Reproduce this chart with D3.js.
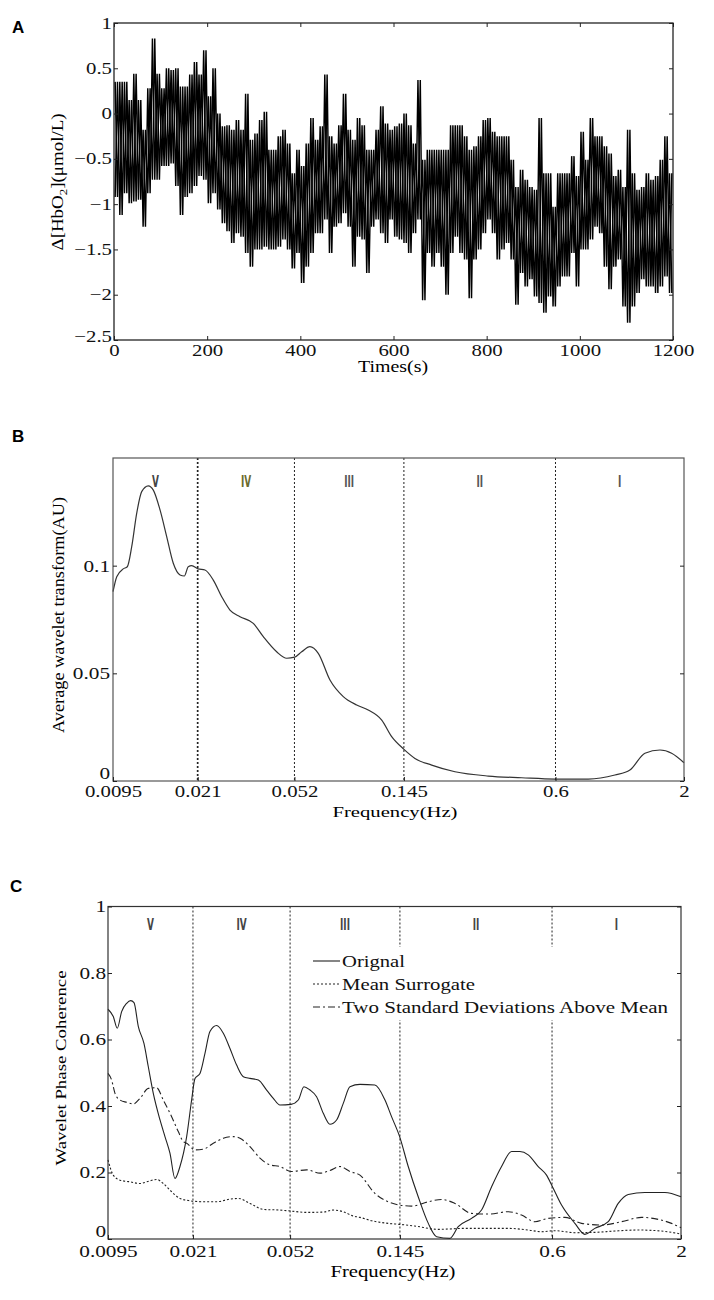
<!DOCTYPE html>
<html><head><meta charset="utf-8">
<script src="https://cdn.jsdelivr.net/npm/d3@7/dist/d3.min.js"></script>
<style>body{margin:0;background:#fff}</style>
</head><body>
<svg id="fig" width="714" height="1300" xmlns="http://www.w3.org/2000/svg"></svg>
<script>
// ---------- Panel A : ΔHbO2 time series (10 s bins: upper / lower excursion) ----------
const aBinSeconds = 10;
const aHigh = [
  0.35,0.35,0.35,0.15,0.44,0.15,-0.18,0.28,0.83,0.44,0.28,0.5,0.48,0.5,0.3,0.3,0.43,0.57,0.43,0.7,0.19,0.5,0.0,-0.14,-0.13,-0.18,-0.07,-0.18,0.22,-0.29,
  -0.22,-0.07,0.02,-0.4,-0.4,-0.25,-0.18,-0.33,-0.66,-0.4,-0.58,-0.33,-0.05,-0.29,-0.14,0.43,-0.25,-0.33,-0.13,0.22,-0.18,-0.29,-0.05,-0.13,-0.4,-0.4,-0.18,0.08,-0.11,-0.18,
  -0.14,-0.11,0.0,-0.13,-0.33,0.37,-0.51,-0.4,-0.4,-0.4,-0.4,-0.4,-0.13,-0.13,-0.13,-0.25,-0.4,-0.36,-0.25,-0.07,-0.05,-0.2,-0.25,-0.25,-0.25,-0.51,-0.81,-0.62,-0.73,-0.81,
  -0.84,-0.05,-0.66,-0.66,-1.03,-0.66,-0.66,-0.66,-0.47,-0.69,-0.2,-0.51,-0.05,-0.25,-0.25,-0.36,-0.44,-0.69,-0.62,-0.81,-0.18,-0.66,-0.84,-0.81,-0.66,-0.73,-0.69,-0.51,-0.25,-0.66];
const aLow = [
  -0.92,-1.12,-0.88,-0.99,-0.97,-0.95,-1.25,-0.88,-0.73,-0.73,-0.58,-0.58,-0.55,-0.8,-1.12,-0.92,-0.88,-0.8,-0.69,-0.73,-0.99,-0.88,-1.06,-1.21,-1.3,-1.43,-1.32,-1.36,-1.54,-1.69,
  -1.5,-1.5,-1.47,-1.5,-1.5,-1.47,-1.39,-1.5,-1.71,-1.54,-1.87,-1.69,-1.54,-1.32,-1.32,-1.17,-1.54,-1.25,-1.21,-1.1,-1.25,-1.69,-1.36,-1.39,-1.76,-1.25,-1.17,-1.32,-1.43,-1.17,
  -1.36,-1.39,-1.43,-1.54,-1.32,-1.17,-2.06,-1.54,-1.69,-1.54,-1.69,-2.0,-1.54,-1.36,-1.54,-1.61,-2.04,-1.61,-1.5,-1.32,-1.17,-1.32,-1.61,-1.5,-1.43,-1.61,-2.11,-1.76,-1.91,-1.83,
  -2.02,-2.09,-2.2,-2.02,-2.13,-1.91,-1.8,-1.8,-1.54,-1.91,-1.5,-1.5,-1.39,-1.25,-1.32,-1.69,-1.94,-1.69,-1.61,-2.13,-2.31,-2.13,-1.98,-1.83,-1.91,-1.91,-1.98,-1.91,-1.8,-1.98];
const aXTicks = [0,200,400,600,800,1000,1200];
const aYTicks = [-2.5,-2,-1.5,-1,-0.5,0,0.5,1];

// ---------- Frequency bands ----------
const freqTicks = [0.0095,0.021,0.052,0.145,0.6,2];
const freqTickLabels = ["0.0095","0.021","0.052","0.145","0.6","2"];
const bandEdges = [0.0095,0.021,0.052,0.145,0.6,2];
const bandNames = ["V","IV","III","II","I"];

// ---------- Panel B : average wavelet transform ----------
const bFreq = [0.0095,0.00984,0.01046,0.01086,0.01132,0.01186,0.01243,0.01322,0.01386,0.01476,0.01571,0.01671,0.0178,0.01853,0.01923,0.01986,0.02106,0.02249,0.02431,0.0263,0.02842,0.03122,0.03536,0.03884,0.04402,0.04836,0.05211,0.05564,0.06014,0.06501,0.07253,0.08216,0.09316,0.1038,0.1178,0.1293,0.1451,0.1608,0.1881,0.234,0.3196,0.437,0.597,0.8154,1.047,1.205,1.387,1.597,1.781,2.0];
const bValue = [0.0879,0.0949,0.0985,0.0995,0.1088,0.1243,0.1344,0.1371,0.1351,0.1259,0.1135,0.1011,0.0957,0.0952,0.0995,0.1000,0.0985,0.098,0.0933,0.0856,0.0794,0.0763,0.0732,0.0670,0.0600,0.0570,0.0575,0.0600,0.0624,0.0593,0.0469,0.0392,0.0353,0.033,0.0283,0.0206,0.0147,0.0105,0.0074,0.0043,0.0023,0.0015,0.0009,0.0009,0.0028,0.0051,0.0129,0.0144,0.0129,0.0085];
const bYTicks = [0,0.05,0.1];

// ---------- Panel C : wavelet phase coherence ----------
const cOrigFreq = [0.0095,0.00998,0.01036,0.01079,0.01131,0.01174,0.01211,0.01261,0.01329,0.01384,0.0145,0.01544,0.01617,0.01694,0.01775,0.0186,0.0198,0.02074,0.0214,0.02242,0.02349,0.02461,0.02619,0.02788,0.02967,0.03157,0.03361,0.03576,0.03865,0.04178,0.04446,0.04731,0.05244,0.05613,0.05918,0.06258,0.06659,0.0709,0.07544,0.08028,0.08544,0.09093,0.09983,0.1148,0.1261,0.1341,0.1446,0.1567,0.1720,0.1890,0.2042,0.2312,0.2499,0.2830,0.3107,0.3412,0.3745,0.4113,0.4443,0.4803,0.5274,0.5699,0.6009,0.6557,0.7425,0.8153,0.8948,1.014,1.113,1.222,1.427,1.720,2.0];
const cOrigVal = [0.691,0.669,0.634,0.684,0.709,0.717,0.711,0.639,0.588,0.518,0.438,0.358,0.308,0.258,0.182,0.218,0.308,0.418,0.483,0.498,0.558,0.624,0.642,0.619,0.573,0.523,0.488,0.483,0.478,0.448,0.423,0.403,0.405,0.418,0.458,0.448,0.428,0.378,0.345,0.358,0.408,0.458,0.465,0.463,0.418,0.368,0.308,0.218,0.127,0.047,0.007,0.002,0.037,0.062,0.087,0.157,0.218,0.263,0.263,0.253,0.218,0.192,0.159,0.102,0.047,0.014,0.032,0.052,0.107,0.134,0.140,0.140,0.127];
const cMeanFreq = [0.0095,0.00998,0.01063,0.01167,0.01281,0.01406,0.01496,0.01592,0.01694,0.0186,0.02042,0.02313,0.02619,0.02967,0.03207,0.03576,0.0405,0.04731,0.05244,0.06068,0.0709,0.07783,0.08544,0.09381,0.09983,0.1113,0.13,0.1446,0.1667,0.2074,0.2659,0.3308,0.3986,0.4803,0.5441,0.616,0.7425,0.8948,1.078,1.341,1.667,2.0];
const cMeanVal = [0.238,0.192,0.177,0.172,0.167,0.175,0.179,0.167,0.147,0.122,0.115,0.112,0.112,0.12,0.122,0.107,0.089,0.087,0.084,0.08,0.081,0.087,0.082,0.069,0.065,0.055,0.047,0.044,0.039,0.029,0.032,0.032,0.032,0.027,0.022,0.025,0.019,0.02,0.024,0.027,0.024,0.015];
const cSdFreq = [0.0095,0.00983,0.01014,0.01063,0.01131,0.01203,0.01281,0.01384,0.01496,0.01592,0.01721,0.01831,0.01919,0.0198,0.0214,0.02313,0.02539,0.02788,0.0306,0.03257,0.03576,0.03925,0.0431,0.04731,0.05244,0.06068,0.06871,0.07544,0.08283,0.09093,0.09983,0.1148,0.13,0.1446,0.1617,0.189,0.2138,0.2423,0.283,0.3308,0.3986,0.4513,0.5112,0.579,0.6762,0.7902,0.9527,1.148,1.383,1.616,1.831,2.0];
const cSdVal = [0.498,0.478,0.438,0.418,0.411,0.406,0.423,0.453,0.455,0.418,0.368,0.323,0.293,0.288,0.268,0.27,0.288,0.303,0.308,0.303,0.278,0.243,0.223,0.218,0.203,0.208,0.198,0.206,0.218,0.203,0.192,0.137,0.112,0.102,0.099,0.112,0.119,0.107,0.077,0.075,0.082,0.072,0.052,0.062,0.065,0.047,0.042,0.052,0.065,0.059,0.047,0.034];
const cYTicks = [0,0.2,0.4,0.6,0.8,1];
const cLegend = ["Orignal","Mean Surrogate","Two Standard Deviations Above Mean"];

// ================= drawing =================
const svg = d3.select("#fig");
const SERIF = "'Liberation Serif','Times New Roman',serif";

function stretch(sel, k){
  sel.each(function(){
    const L = this.getComputedTextLength();
    d3.select(this).attr("textLength", L*k).attr("lengthAdjust","spacingAndGlyphs");
  });
}
function fitText(sel, w){ sel.attr("textLength", w).attr("lengthAdjust","spacingAndGlyphs"); }

function panelLetter(txt, x, y){
  svg.append("text").attr("x",x).attr("y",y).text(txt)
    .attr("font-family","'Liberation Sans',Arial,sans-serif").attr("font-weight","bold").attr("font-size",17);
}

function frame(x, y, boxColor){
  const [x0,x1] = x.range(), [y0,y1] = y.range();
  svg.append("rect").attr("x",x0).attr("y",y1).attr("width",x1-x0).attr("height",y0-y1)
    .attr("fill","none").attr("stroke",boxColor).attr("stroke-width",1.2);
}

function styleAxis(g, fs, k){
  g.select(".domain").remove();
  g.selectAll(".tick line").attr("stroke","#222");
  g.selectAll("text").attr("font-family",SERIF).attr("font-size",fs).attr("fill","#111");
  stretch(g.selectAll("text"), k);
}

// ---------- A ----------
panelLetter("A", 12, 33);
const xA = d3.scaleLinear().domain([0,1200]).range([114,673]);
const yA = d3.scaleLinear().domain([-2.5,1]).range([340,23]);
// two interleaved traces through each bin's upper and lower excursion
const traceUp = [], traceDown = [];
aHigh.forEach((h,i)=>{
  const t0 = i*aBinSeconds;
  traceUp.push([t0 + aBinSeconds*0.25, h], [t0 + aBinSeconds*0.75, aLow[i]]);
  traceDown.push([t0 + aBinSeconds*0.25, aLow[i]], [t0 + aBinSeconds*0.75, h]);
});
const lineA = d3.line().x(d=>xA(d[0])).y(d=>yA(d[1]));
[traceUp, traceDown].forEach(tr=>{
  svg.append("path").datum(tr).attr("d", lineA)
    .attr("fill","none").attr("stroke","#000").attr("stroke-width",1.45).attr("stroke-linejoin","miter");
});
frame(xA, yA, "#111");
let g = svg.append("g").attr("transform","translate(0,340)")
  .call(d3.axisBottom(xA).tickValues(aXTicks).tickFormat(d3.format("d")).tickSizeInner(-4).tickSizeOuter(0).tickPadding(5));
styleAxis(g, 16, 1.3);
g = svg.append("g").attr("transform","translate(114,0)")
  .call(d3.axisLeft(yA).tickValues(aYTicks).tickFormat(d=>d3.format("")(d)).tickSizeInner(-4).tickSizeOuter(0).tickPadding(2));
styleAxis(g, 16, 1.3);
g.selectAll(".tick text").filter(d=>d===-2.5).attr("dy","0.1em");
g = svg.append("g").attr("transform","translate(0,23)")
  .call(d3.axisTop(xA).tickValues(aXTicks).tickFormat("").tickSizeInner(-4).tickSizeOuter(0));
styleAxis(g, 16, 1);
g = svg.append("g").attr("transform","translate(673,0)")
  .call(d3.axisRight(yA).tickValues(aYTicks).tickFormat("").tickSizeInner(-4).tickSizeOuter(0));
styleAxis(g, 16, 1);
fitText(svg.append("text").attr("x",393).attr("y",372).attr("text-anchor","middle")
  .attr("font-family",SERIF).attr("font-size",16).text("Times(s)"), 70);
{
  const t = svg.append("text").attr("transform","translate(63,182) rotate(-90)")
    .attr("text-anchor","middle").attr("font-family",SERIF).attr("font-size",16);
  t.append("tspan").text("Δ[HbO");
  t.append("tspan").attr("font-size",11).attr("dy",4).text("2");
  t.append("tspan").attr("dy",-4).text("](μmol/L)");
  fitText(t, 137);
}

// ---------- frequency panels helper ----------
function freqPanel(x, y, labelY, thickFirst, colors){
  const [y0,y1] = y.range();
  svg.append("g").selectAll("line").data(bandEdges.slice(1,-1)).join("line")
    .attr("x1",d=>x(d)).attr("x2",d=>x(d)).attr("y1",y1).attr("y2",y0)
    .attr("stroke","#222").attr("stroke-width",(d,i)=> i===0 && thickFirst ? 1.7 : 1)
    .attr("stroke-dasharray","2,2");
  svg.append("g").selectAll("text").data(bandNames).join("text")
    .attr("x",(d,i)=>x(Math.sqrt(bandEdges[i]*bandEdges[i+1])))
    .attr("y",labelY).attr("text-anchor","middle")
    .attr("font-family","'DejaVu Sans Condensed','DejaVu Sans',sans-serif").attr("font-weight","bold")
    .attr("font-size",16).attr("fill",(d,i)=>colors[i]).text(d=>d)
    .each(function(){ const L=this.getComputedTextLength(); d3.select(this).attr("textLength",L*0.62).attr("lengthAdjust","spacingAndGlyphs"); });
}

// ---------- B ----------
panelLetter("B", 12, 442);
const xB = d3.scaleLog().domain([0.0095,2]).range([113,684]);
const yB = d3.scaleLinear().domain([0,0.15]).range([781,458]);
freqPanel(xB, yB, 487, true, ["#444","#6b6b2e","#555","#555","#555"]);
svg.append("path").datum(bFreq.map((f,i)=>[f,bValue[i]]))
  .attr("d", d3.line().x(d=>xB(d[0])).y(d=>yB(d[1])).curve(d3.curveMonotoneX))
  .attr("fill","none").attr("stroke","#333").attr("stroke-width",1.2);
frame(xB, yB, "#555");
g = svg.append("g").attr("transform","translate(0,781)")
  .call(d3.axisBottom(xB).tickValues(freqTicks).tickFormat((d,i)=>freqTickLabels[i]).tickSizeInner(-4).tickSizeOuter(0).tickPadding(5));
styleAxis(g, 16, 1.3);
g = svg.append("g").attr("transform","translate(113,0)")
  .call(d3.axisLeft(yB).tickValues(bYTicks).tickFormat(d=>d3.format("")(d)).tickSizeInner(-4).tickSizeOuter(0).tickPadding(3));
styleAxis(g, 17, 1.25);
g.selectAll(".tick text").filter(d=>d===0).attr("dy","-0.15em").attr("font-size",16);
g = svg.append("g").attr("transform","translate(684,0)")
  .call(d3.axisRight(yB).tickValues(bYTicks).tickFormat("").tickSizeInner(-4).tickSizeOuter(0));
styleAxis(g, 17, 1);
fitText(svg.append("text").attr("x",395).attr("y",817).attr("text-anchor","middle")
  .attr("font-family",SERIF).attr("font-size",15).text("Frequency(Hz)"), 125);
fitText(svg.append("text").attr("transform","translate(64,615) rotate(-90)").attr("text-anchor","middle")
  .attr("font-family",SERIF).attr("font-size",16).text("Average wavelet transform(AU)"), 236);

// ---------- C ----------
panelLetter("C", 10, 892);
const xC = d3.scaleLog().domain([0.0095,2]).range([108,681]);
const yC = d3.scaleLinear().domain([0,1]).range([1239,906.5]);
freqPanel(xC, yC, 930, false, ["#444","#444","#444","#444","#444"]);
const lineC = d3.line().x(d=>xC(d[0])).y(d=>yC(d[1])).curve(d3.curveMonotoneX);
const cSeries = [
  {f:cOrigFreq, v:cOrigVal, dash:null},
  {f:cMeanFreq, v:cMeanVal, dash:"2,2"},
  {f:cSdFreq, v:cSdVal, dash:"7,3,2,3"}
];
cSeries.forEach(s=>{
  svg.append("path").datum(s.f.map((f,i)=>[f,s.v[i]]))
    .attr("d", lineC).attr("fill","none").attr("stroke","#222").attr("stroke-width",1.1)
    .attr("stroke-dasharray", s.dash);
});
frame(xC, yC, "#333");
g = svg.append("g").attr("transform","translate(0,1239)")
  .call(d3.axisBottom(xC).tickValues(freqTicks).tickFormat((d,i)=>freqTickLabels[i]).tickSizeInner(-4).tickSizeOuter(0).tickPadding(6));
styleAxis(g, 17, 1.25);
g = svg.append("g").attr("transform","translate(108,0)")
  .call(d3.axisLeft(yC).tickValues(cYTicks).tickFormat(d=>d3.format("")(d)).tickSizeInner(-4).tickSizeOuter(0).tickPadding(2));
styleAxis(g, 17, 1.25);
g.selectAll(".tick text").filter(d=>d===0).attr("dy","-0.15em").attr("font-size",16);
g = svg.append("g").attr("transform","translate(681,0)")
  .call(d3.axisRight(yC).tickValues(cYTicks).tickFormat("").tickSizeInner(-4).tickSizeOuter(0));
styleAxis(g, 17, 1);
fitText(svg.append("text").attr("x",393).attr("y",1277).attr("text-anchor","middle")
  .attr("font-family",SERIF).attr("font-size",16).text("Frequency(Hz)"), 125);
fitText(svg.append("text").attr("transform","translate(66,1068) rotate(-90)").attr("text-anchor","middle")
  .attr("font-family",SERIF).attr("font-size",15).text("Wavelet Phase Coherence"), 195);

// legend
const leg = svg.append("g");
leg.append("rect").attr("x",306).attr("y",947).attr("width",366).attr("height",73).attr("fill","#fff");
const legW = [63,133,326];
cLegend.forEach((name,i)=>{
  const yy = 961 + i*23;
  leg.append("line").attr("x1",313).attr("x2",340).attr("y1",yy).attr("y2",yy)
    .attr("stroke","#222").attr("stroke-width",1.1).attr("stroke-dasharray",cSeries[i].dash);
  fitText(leg.append("text").attr("x",342).attr("y",yy+6).attr("font-family",SERIF)
    .attr("font-size",17).attr("fill","#111").text(name), legW[i]);
});
</script>
</body></html>
